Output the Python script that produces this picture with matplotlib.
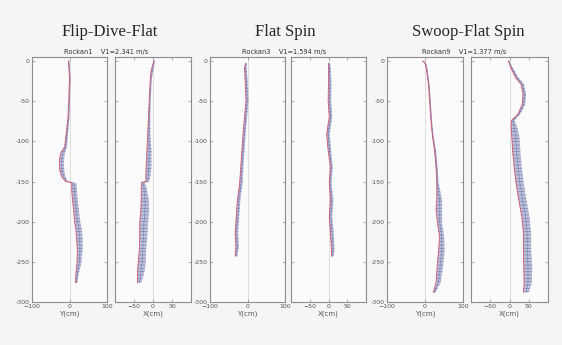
import numpy as np
import matplotlib
matplotlib.use("Agg")
import matplotlib.pyplot as plt

# ---------------- data ----------------
titles = ["Flip-Dive-Flat", "Flat Spin", "Swoop-Flat Spin"]
subtitles = ["Rockan1    V1=2.341 m/s", "Rockan3    V1=1.594 m/s", "Rockan9    V1=1.377 m/s"]
xlabels = ["Y(cm)", "X(cm)"]
y_ticks = [0, -50, -100, -150, -200, -250, -300]
xticks_y = [-100, 0, 100]
xticks_x = [-50, 0, 50]

# Flip-Dive-Flat, Y
fdf_y_depth = [0, -21, -49, -70, -91, -107, -115, -124, -136, -144, -150, -151, -152, -161,
               -173, -185, -198, -210, -222, -235, -251, -264, -276]
fdf_y_pos = [-3, 0, -2, -4, -9, -13, -24, -27, -26, -21, -10, 2, 6, 6,
             8, 11, 13, 17, 19, 21, 20, 17, 16]
fdf_y_spread = [3, 3, 3, 4, 5, 6, 12, 12, 12, 10, 6, 4, 12, 14,
                14, 14, 15, 16, 16, 14, 12, 8, 5]
# Flip-Dive-Flat, X
fdf_x_depth = [0, -12, -21, -49, -70, -91, -111, -132, -144, -150, -151, -157, -173, -185,
               -202, -218, -235, -251, -264, -276]
fdf_x_pos = [2, -5, -7, -10, -12, -14, -16, -18, -19, -18, -30, -31, -31, -32,
             -35, -35, -36, -39, -41, -41]
fdf_x_spread = [3, 6, 4, 4, 5, 7, 12, 14, 12, 8, 8, 14, 20, 22,
                22, 20, 18, 20, 18, 10]
# Flat Spin, Y
fs_y_depth = [-3, -8, -29, -49, -70, -91, -111, -132, -152, -173, -194, -214, -231, -243]
fs_y_pos = [-5, -8, -6, -4, -8, -12, -15, -18, -21, -27, -30, -33, -31, -33]
fs_y_spread = [3, 6, 7, 7, 7, 7, 7, 7, 8, 8, 8, 8, 8, 6]
# Flat Spin, X
fs_x_depth = [-3, -8, -29, -49, -70, -91, -111, -132, -152, -173, -194, -214, -235, -243]
fs_x_pos = [0, 0, 0, -1, 2, -5, -1, 5, 2, 5, 2, 5, 8, 8]
fs_x_spread = [4, 6, 8, 8, 8, 8, 8, 6, 6, 8, 8, 9, 8, 6]
# Swoop-Flat Spin, Y
sfs_y_depth = [0, -3, -8, -29, -49, -70, -82, -95, -111, -132, -152, -173, -185, -202,
               -218, -235, -255, -276, -288]
sfs_y_pos = [-6, 0, 3, 9, 12, 15, 17, 20, 25, 29, 31, 31, 29, 33,
             38, 36, 32, 29, 22]
sfs_y_spread = [3, 3, 3, 3, 3, 3, 3, 3, 4, 4, 5, 14, 16, 12,
                12, 16, 16, 12, 6]
# Swoop-Flat Spin, X
sfs_x_depth = [0, -8, -21, -29, -41, -54, -66, -74, -82, -95, -111, -132, -152, -173,
               -194, -214, -235, -255, -276, -288]
sfs_x_pos = [-3, 3, 16, 30, 35, 33, 22, 5, 4, 6, 8, 12, 17, 24,
             32, 36, 36, 37, 38, 36]
sfs_x_spread = [3, 5, 8, 8, 8, 8, 6, 8, 16, 20, 20, 20, 20, 20,
                20, 20, 20, 22, 20, 14]

panels = [
    (fdf_y_depth, fdf_y_pos, fdf_y_spread),
    (fdf_x_depth, fdf_x_pos, fdf_x_spread),
    (fs_y_depth, fs_y_pos, fs_y_spread),
    (fs_x_depth, fs_x_pos, fs_x_spread),
    (sfs_y_depth, sfs_y_pos, sfs_y_spread),
    (sfs_x_depth, sfs_x_pos, sfs_x_spread),
]

# ---------------- layout ----------------
W, H = 562, 345
fig = plt.figure(figsize=(W / 100, H / 100), dpi=100, facecolor="#f5f5f5")
plt.rcParams["hatch.linewidth"] = 0.45

ax_px = [(32, 107), (115, 191), (210, 285), (291, 366), (387, 463), (471, 548)]
top_px, bot_px = 57, 302
gray = "#8c8c8c"

for i, ((l, r), (d, p, s)) in enumerate(zip(ax_px, panels)):
    ax = fig.add_axes([l / W, 1 - bot_px / H, (r - l) / W, (bot_px - top_px) / H])
    ax.set_facecolor("#fbfbfb")
    d = np.asarray(d, float)
    p = np.asarray(p, float)
    s = np.asarray(s, float)
    ax.axvline(0, color="#d2d2d2", lw=0.5, zorder=0)
    ax.fill_betweenx(d, p, p + s, facecolor="#b3b6d3", edgecolor="#6e76a8",
                     hatch="-----", lw=0, alpha=0.85, zorder=2)
    ax.plot(p + s * 0.5, d, color="#6a72ae", lw=0.45, alpha=0.75, zorder=3)
    ax.plot(p, d, color="#d2506c", lw=0.65, alpha=0.9, zorder=4)
    ax.set_xlim(-100, 100)
    ax.set_ylim(-300, 5)
    ax.set_yticks(y_ticks)
    if i % 2 == 0:
        ax.set_xticks(xticks_y)
        ax.set_yticklabels([str(t) for t in y_ticks])
    else:
        ax.set_xticks(xticks_x)
        ax.set_yticklabels([])
    ax.set_xlabel(xlabels[i % 2], fontsize=5, color="#555555", labelpad=1)
    ax.tick_params(direction="in", length=2, width=0.5, colors=gray,
                   labelcolor="#555555", labelsize=4.5, pad=1.5,
                   top=True, right=True)
    for sp in ax.spines.values():
        sp.set_color(gray)
        sp.set_linewidth(0.8)

title_x = [110, 285, 468]
sub_x = [106, 284, 464]
for t, sx, st, ssx in zip(titles, title_x, subtitles, sub_x):
    fig.text(sx / W, 1 - 32 / H, t, ha="center", va="center",
             fontsize=12, family="Liberation Serif", color="#262626")
    fig.text(ssx / W, 1 - 52 / H, st, ha="center", va="center",
             fontsize=4.8, color="#333333")

fig.savefig("out.png", dpi=100, facecolor=fig.get_facecolor())
